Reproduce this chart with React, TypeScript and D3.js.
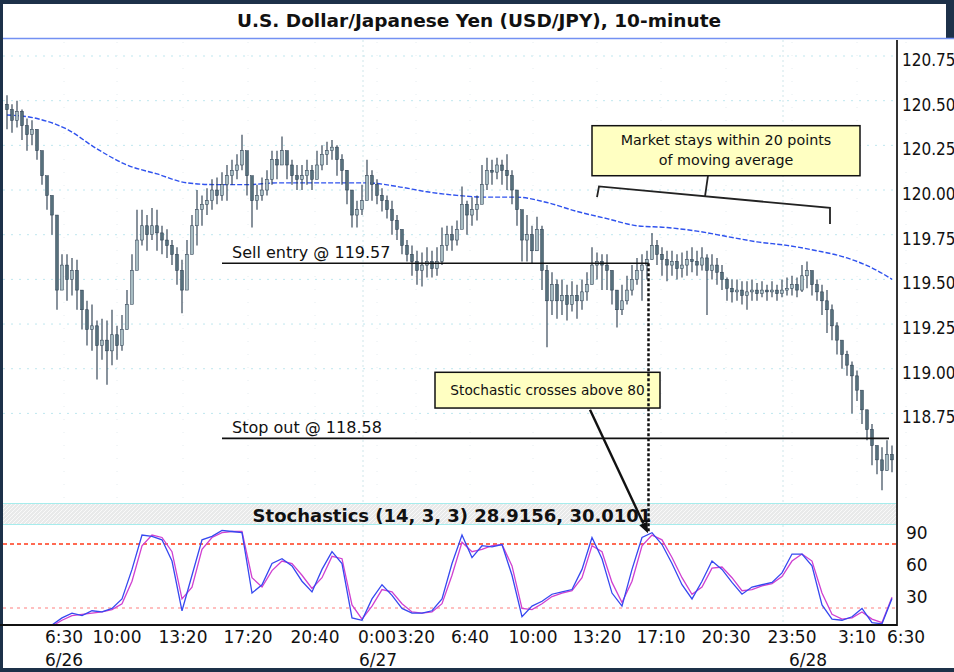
import React from "react";
import * as d3 from "d3";

// ---------- data ----------
const firstOpen = 120.48;
const closes = [
  120.45, 120.39, 120.44, 120.36, 120.31, 120.34, 120.22, 120.08, 119.97, 119.86,
  119.44, 119.58, 119.50, 119.55, 119.44, 119.33, 119.22, 119.24, 119.13, 119.16,
  119.10, 119.19, 119.13, 119.22, 119.36, 119.55, 119.72, 119.80, 119.75, 119.80,
  119.76, 119.72, 119.69, 119.64, 119.55, 119.44, 119.64, 119.80, 119.89, 119.92,
  119.94, 120.00, 119.97, 120.03, 120.08, 120.11, 120.14, 120.22, 120.08, 119.94,
  119.97, 120.00, 120.06, 120.17, 120.14, 120.22, 120.14, 120.08, 120.06, 120.08,
  120.11, 120.06, 120.14, 120.20, 120.22, 120.24, 120.17, 120.11, 120.00, 119.86,
  119.89, 119.94, 120.08, 120.03, 119.97, 119.94, 119.89, 119.83, 119.78, 119.69,
  119.64, 119.60, 119.55, 119.58, 119.60, 119.56, 119.60, 119.69, 119.75, 119.72,
  119.78, 119.92, 119.86, 119.89, 119.92, 120.03, 120.11, 120.10, 120.14, 120.11,
  120.08, 120.00, 119.89, 119.72, 119.75, 119.66, 119.78, 119.55, 119.38, 119.47,
  119.38, 119.41, 119.36, 119.41, 119.38, 119.43, 119.47, 119.58, 119.60, 119.58,
  119.55, 119.44, 119.33, 119.38, 119.44, 119.50, 119.55, 119.58, 119.61, 119.69,
  119.64, 119.61, 119.58, 119.60, 119.56, 119.58, 119.61, 119.60, 119.58, 119.62,
  119.55, 119.58, 119.54, 119.50, 119.45, 119.43, 119.44, 119.41, 119.43, 119.44,
  119.42, 119.44, 119.43, 119.44, 119.42, 119.44, 119.45, 119.47, 119.44, 119.52,
  119.55, 119.47, 119.43, 119.38, 119.33, 119.24, 119.16, 119.08, 119.02, 118.96,
  118.88, 118.77, 118.66, 118.57, 118.49, 118.43, 118.52, 118.49,
];
const highs = [
  120.53, 120.48, 120.50, 120.45, 120.40, 120.39, 120.31, 120.22, 120.06, 119.94,
  119.80, 119.64, 119.64, 119.62, 119.61, 119.44, 119.38, 119.36, 119.27, 119.28,
  119.27, 119.33, 119.24, 119.30, 119.44, 119.64, 119.89, 119.89, 119.86, 119.90,
  119.89, 119.80, 119.78, 119.72, 119.68, 119.61, 119.72, 119.86, 120.00, 119.97,
  120.01, 120.06, 120.07, 120.10, 120.14, 120.17, 120.20, 120.31, 120.20, 120.06,
  120.03, 120.07, 120.11, 120.22, 120.22, 120.30, 120.22, 120.17, 120.14, 120.14,
  120.17, 120.14, 120.22, 120.25, 120.27, 120.28, 120.25, 120.20, 120.11, 119.97,
  119.94, 120.03, 120.17, 120.11, 120.06, 120.01, 119.97, 119.94, 119.86, 119.76,
  119.72, 119.69, 119.66, 119.65, 119.68, 119.66, 119.68, 119.79, 119.80, 119.80,
  119.83, 120.02, 119.94, 119.96, 119.97, 120.14, 120.18, 120.17, 120.18, 120.17,
  120.20, 120.11, 120.00, 119.87, 119.86, 119.80, 119.85, 119.80, 119.58, 119.54,
  119.50, 119.50, 119.47, 119.49, 119.47, 119.50, 119.54, 119.68, 119.65, 119.64,
  119.64, 119.55, 119.44, 119.47, 119.52, 119.58, 119.62, 119.64, 119.66, 119.76,
  119.72, 119.68, 119.66, 119.66, 119.64, 119.65, 119.66, 119.68, 119.66, 119.68,
  119.64, 119.64, 119.62, 119.58, 119.51, 119.50, 119.50, 119.49, 119.49, 119.50,
  119.48, 119.49, 119.47, 119.49, 119.47, 119.50, 119.51, 119.52, 119.51, 119.58,
  119.60, 119.54, 119.50, 119.47, 119.44, 119.36, 119.26, 119.13, 119.10, 119.04,
  118.99, 118.87, 118.77, 118.69, 118.57, 118.56, 118.60, 118.57,
];
const lows = [
  120.34, 120.32, 120.35, 120.28, 120.22, 120.25, 120.17, 120.03, 119.89, 119.75,
  119.33, 119.44, 119.38, 119.41, 119.33, 119.22, 119.13, 119.10, 118.94, 119.05,
  118.91, 119.02, 119.05, 119.10, 119.22, 119.44, 119.61, 119.69, 119.66, 119.72,
  119.66, 119.64, 119.62, 119.58, 119.47, 119.31, 119.52, 119.64, 119.69, 119.80,
  119.86, 119.89, 119.92, 119.94, 119.94, 120.03, 120.06, 120.11, 119.97, 119.79,
  119.89, 119.94, 119.97, 120.03, 120.06, 120.14, 120.06, 120.03, 120.00, 120.00,
  120.03, 120.00, 120.06, 120.11, 120.14, 120.17, 120.08, 120.03, 119.92, 119.79,
  119.79, 119.86, 119.97, 119.94, 119.92, 119.88, 119.84, 119.75, 119.72, 119.64,
  119.60, 119.52, 119.47, 119.46, 119.51, 119.51, 119.52, 119.58, 119.66, 119.66,
  119.69, 119.80, 119.75, 119.80, 119.83, 119.94, 120.00, 120.03, 120.06, 120.03,
  120.00, 119.92, 119.80, 119.60, 119.60, 119.59, 119.66, 119.44, 119.12, 119.30,
  119.28, 119.30, 119.27, 119.32, 119.28, 119.33, 119.38, 119.49, 119.50, 119.44,
  119.44, 119.36, 119.23, 119.30, 119.36, 119.41, 119.47, 119.38, 119.50, 119.61,
  119.58, 119.52, 119.49, 119.52, 119.50, 119.51, 119.52, 119.54, 119.52, 119.55,
  119.30, 119.50, 119.47, 119.44, 119.38, 119.37, 119.38, 119.36, 119.33, 119.38,
  119.38, 119.40, 119.38, 119.40, 119.38, 119.40, 119.41, 119.41, 119.40, 119.43,
  119.45, 119.41, 119.38, 119.30, 119.20, 119.16, 119.08, 119.00, 118.96, 118.75,
  118.82, 118.69, 118.60, 118.46, 118.41, 118.32, 118.43, 118.42,
];
// moving average, sampled every 6 bars plus the last bar
const maValues = [
  120.42, 120.40, 120.34, 120.23, 120.14, 120.09, 120.04, 120.03, 120.03, 120.04,
  120.04, 120.04, 120.04, 120.02, 119.99, 119.97, 119.96, 119.96, 119.93, 119.88,
  119.84, 119.80, 119.79, 119.77, 119.74, 119.71, 119.69, 119.66, 119.62, 119.55,
  119.50,
];
// stochastics %K and %D, sampled every 2 bars from bar 9
const stochK = [
  4.1, 10.7, 15.2, 12.9, 17.4, 16.3, 19.6, 28.5, 56.2, 88.4,
  87.2, 83.9, 64.0, 17.4, 50.7, 83.9, 87.2, 92.8, 91.7, 90.6,
  34.0, 41.8, 61.7, 66.2, 59.5, 45.1, 35.1, 56.2, 72.8, 61.7,
  10.7, 8.5, 28.5, 41.8, 31.8, 19.6, 15.2, 15.2, 17.4, 28.5,
  61.7, 88.4, 67.3, 78.4, 77.3, 79.5, 50.7, 11.8, 21.8, 26.3,
  32.9, 35.1, 37.3, 56.2, 86.1, 66.2, 34.0, 21.8, 56.2, 86.1,
  90.6, 79.5, 61.7, 41.8, 28.5, 45.1, 64.0, 56.2, 44.0, 32.9,
  39.6, 41.8, 44.0, 52.9, 70.6, 70.6, 59.5, 22.9, 9.6, 8.5,
  11.8, 19.6, 6.3, 5.2, 28.9,
];
const stochD = [
  3.0, 8.5, 12.9, 14.1, 15.2, 16.3, 18.5, 24.0, 45.1, 78.4,
  88.4, 86.1, 72.8, 28.5, 39.6, 75.0, 86.1, 90.6, 91.7, 91.7,
  48.4, 39.6, 55.1, 64.0, 61.7, 50.7, 38.4, 48.4, 68.4, 66.2,
  22.9, 9.6, 21.8, 37.3, 35.1, 24.0, 16.3, 15.2, 16.3, 24.0,
  50.7, 81.7, 72.8, 75.0, 78.4, 79.5, 59.5, 19.6, 18.5, 24.0,
  30.7, 34.0, 36.2, 48.4, 78.4, 72.8, 44.0, 25.1, 45.1, 78.4,
  88.4, 83.9, 67.3, 48.4, 32.9, 39.6, 57.3, 58.4, 48.4, 36.2,
  37.3, 40.7, 42.9, 49.5, 64.0, 70.6, 64.0, 34.0, 14.1, 9.6,
  10.7, 16.3, 9.6, 6.3, 30.0,
];
const priceTicks = [118.75, 119.0, 119.25, 119.5, 119.75, 120.0, 120.25, 120.5, 120.75];
const stochTicks = [90, 60, 30];
const stochLevels = [80, 20];
const timeLabels = ["6:30", "10:00", "13:20", "17:20", "20:40", "0:00", "3:20", "6:40", "10:00", "13:20", "17:10", "20:30", "23:50", "3:10", "6:30"];
const timeTickBars = [11.4, 22, 35.2, 48.2, 61.6, 74.0, 81.8, 92.6, 105.2, 118, 130.8, 143.8, 157, 170, 179.8];
const dateLabels = ["6/26", "6/27", "6/28"];
const dateTickBars = [11.4, 74.2, 160.2];
const dayLineBars = [71.2, 155.2];

const title = "U.S. Dollar/Japanese Yen (USD/JPY), 10-minute";
const stochTitle = "Stochastics (14, 3, 3) 28.9156, 30.0101";
const sellEntry = { label: "Sell entry @ 119.57", level: 119.59, from: 43, to: 128.3 };
const stopOut = { label: "Stop out @ 118.58", level: 118.61, from: 43, to: 176.4 };
const maNote = { lines: ["Market stays within 20 points", "of moving average"], x0: 117, x1: 170.6, top: 120.36, bottom: 120.08 };
const maBracket: [number, number][] = [[118.0, 119.96], [118.4, 120.02], [164.6, 119.9], [164.6, 119.81]];
const maConnector: [number, number][] = [[139.6, 119.965], [140.2, 120.08]];
const stochNote = { text: "Stochastic crosses above 80", x0: 85.6, x1: 130.6, top: 118.98, bottom: 118.78 };
const arrowFrom: [number, number] = [116.6, 118.77];
const arrowTo: [number, number] = [128.2, 90];

const FONT = "'DejaVu Sans', Verdana, sans-serif";
const FONT_COND = "'DejaVu Sans Condensed', 'DejaVu Sans', sans-serif";

export default function App() {
  const W = 954, H = 672;
  const n = closes.length;
  const axisX = 897;
  const x = d3.scaleLinear().domain([0, n - 1]).range([7, 892]);
  const yP = d3.scaleLinear().domain([118.75, 120.75]).range([413.4, 56]);
  const yS = d3.scaleLinear().domain([20, 80]).range([608, 544]);

  const maBars = d3.range(0, n - 3, 6).concat([n - 1]);
  const stochBars = d3.range(9, n, 2);
  const maPath = d3.line<number>().x((_, i) => x(maBars[i])).y((d) => yP(d)).curve(d3.curveMonotoneX)(maValues) || "";
  const kPath = d3.line<number>().x((_, i) => x(stochBars[i])).y((d) => yS(d))(stochK) || "";
  const dPath = d3.line<number>().x((_, i) => x(stochBars[i])).y((d) => yS(d))(stochD) || "";
  const bracketPath = d3.line<[number, number]>().x((d) => x(d[0])).y((d) => yP(d[1]))(maBracket) || "";
  const connPath = d3.line<[number, number]>().x((d) => x(d[0])).y((d) => yP(d[1]))(maConnector) || "";

  const ax0 = x(arrowFrom[0]), ay0 = yP(arrowFrom[1]);
  const ax1 = x(arrowTo[0]), ay1 = yS(arrowTo[1]);
  const len = Math.hypot(ax1 - ax0, ay1 - ay0);
  const ux = (ax1 - ax0) / len, uy = (ay1 - ay0) / len;
  const hl = 11, hw = 4.5;
  const bx = ax1 - ux * hl, by = ay1 - uy * hl;
  const head = `${ax1},${ay1} ${bx - uy * hw},${by + ux * hw} ${bx + uy * hw},${by - ux * hw}`;

  const textStyle = { fontFamily: FONT };
  const condStyle = { fontFamily: FONT_COND, fontStretch: "condensed" as const };

  return (
    <svg width={W} height={H} style={{ position: "absolute", left: 0, top: 0, display: "block" }}>
      <defs>
        <clipPath id="stochClip"><rect x={3} y={526} width={axisX - 3} height={98} /></clipPath>
        <clipPath id="priceClip"><rect x={3} y={40} width={axisX - 3} height={462} /></clipPath>
        <pattern id="hatch" width={4} height={4} patternUnits="userSpaceOnUse">
          <rect width={4} height={4} fill="#e9eaea" />
          <path d="M0,4 L4,0" stroke="#f9f9f9" strokeWidth={1} />
        </pattern>
      </defs>

      {/* frame */}
      <rect width={W} height={H} fill="#1d3149" />
      <rect x={3} y={4} width={943} height={36} fill="#ffffff" />
      <rect x={3} y={38} width={951} height={630} fill="#ffffff" />
      <text x={479} y={20} textAnchor="middle" dominantBaseline="central" fontSize={18.5} fontWeight="bold" fill="#111" style={textStyle}>{title}</text>
      <line x1={3} x2={954} y1={38.5} y2={38.5} stroke="#7391f2" strokeWidth={1.6} />

      {/* grid */}
      {priceTicks.map((p) => (
        <line key={"g" + p} x1={3} x2={axisX} y1={yP(p)} y2={yP(p)} stroke="#bfe7ef" strokeWidth={1} strokeDasharray="2,6" />
      ))}
      {timeTickBars.map((b, i) => (
        <line key={"v" + i} x1={x(b)} x2={x(b)} y1={42} y2={500} stroke="#e6edf0" strokeWidth={1} strokeDasharray="1,12" />
      ))}
      {dayLineBars.map((b) => (
        <line key={"d" + b} x1={x(b)} x2={x(b)} y1={40} y2={625} stroke="#cfe6ea" strokeWidth={1} strokeDasharray="2,3" />
      ))}

      {/* moving average */}
      <path d={maPath} fill="none" stroke="#2f52ee" strokeWidth={1.4} strokeDasharray="5,2" clipPath="url(#priceClip)" />

      {/* candles */}
      <g clipPath="url(#priceClip)">
        {closes.map((c, i) => {
          const o = i === 0 ? firstOpen : closes[i - 1];
          const up = c >= o;
          const cx = x(i);
          const yt = yP(Math.max(o, c));
          const yb = yP(Math.min(o, c));
          return (
            <g key={i}>
              <line x1={cx} x2={cx} y1={yP(highs[i])} y2={yP(lows[i])} stroke="#25374a" strokeWidth={1.1} />
              <rect x={cx - 1.4} y={yt} width={2.8} height={Math.max(1, yb - yt)} fill={up ? "#a7bcc2" : "#56707c"} stroke="#25374a" strokeWidth={0.5} />
            </g>
          );
        })}
      </g>

      {/* sell / stop lines */}
      {[sellEntry, stopOut].map((s) => (
        <g key={s.label}>
          <line x1={x(s.from)} x2={x(s.to)} y1={yP(s.level)} y2={yP(s.level)} stroke="#111" strokeWidth={1.6} />
          <text x={x(s.from) + 10} y={yP(s.level) - 5} fontSize={16} fill="#111" style={textStyle}>{s.label}</text>
        </g>
      ))}

      {/* MA note */}
      <rect x={x(maNote.x0)} y={yP(maNote.top)} width={x(maNote.x1) - x(maNote.x0)} height={yP(maNote.bottom) - yP(maNote.top)} fill="#ffffc2" stroke="#111" strokeWidth={1.5} />
      {maNote.lines.map((t, i) => (
        <text key={t} x={(x(maNote.x0) + x(maNote.x1)) / 2} y={yP(maNote.top) + 14 + i * 20} textAnchor="middle" dominantBaseline="central" fontSize={14.3} fill="#111" style={textStyle}>{t}</text>
      ))}
      <path d={bracketPath} fill="none" stroke="#222" strokeWidth={1.8} />
      <path d={connPath} fill="none" stroke="#222" strokeWidth={1.8} />

      {/* stochastic note */}
      <rect x={x(stochNote.x0)} y={yP(stochNote.top)} width={x(stochNote.x1) - x(stochNote.x0)} height={yP(stochNote.bottom) - yP(stochNote.top)} fill="#ffffc2" stroke="#111" strokeWidth={1.5} />
      <text x={(x(stochNote.x0) + x(stochNote.x1)) / 2} y={(yP(stochNote.top) + yP(stochNote.bottom)) / 2} textAnchor="middle" dominantBaseline="central" fontSize={13.7} fill="#111" style={textStyle}>{stochNote.text}</text>

      {/* stochastic header band */}
      <rect x={3} y={503} width={axisX - 3} height={22} fill="url(#hatch)" />
      <line x1={3} x2={axisX} y1={503.5} y2={503.5} stroke="#a6ecec" strokeWidth={1} />
      <line x1={3} x2={axisX} y1={524.5} y2={524.5} stroke="#a6ecec" strokeWidth={1} />
      <text x={452} y={515} textAnchor="middle" dominantBaseline="central" fontSize={18} fontWeight="bold" fill="#111" style={textStyle}>{stochTitle}</text>

      {/* stochastic panel */}
      {stochLevels.map((v, i) => (
        <line key={"l" + v} x1={3} x2={axisX} y1={yS(v)} y2={yS(v)} stroke={i === 0 ? "#ff3a1a" : "#ffaaaa"} strokeWidth={1.5} strokeDasharray={i === 0 ? "4,3" : "3,4"} />
      ))}
      <g clipPath="url(#stochClip)">
        <path d={dPath} fill="none" stroke="#d040d0" strokeWidth={1.3} />
        <path d={kPath} fill="none" stroke="#3548f0" strokeWidth={1.3} />
      </g>

      {/* vertical dotted marker */}
      <line x1={x(sellEntry.to)} x2={x(sellEntry.to)} y1={yP(sellEntry.level)} y2={yS(arrowTo[1])} stroke="#111" strokeWidth={2.5} strokeDasharray="3,2" />

      {/* arrow */}
      <line x1={ax0} y1={ay0} x2={bx} y2={by} stroke="#111" strokeWidth={2.4} />
      <polygon points={head} fill="#111" />

      {/* axes */}
      <line x1={axisX} x2={axisX} y1={40} y2={626} stroke="#333" strokeWidth={2} />
      <line x1={0} x2={axisX} y1={625} y2={625} stroke="#111" strokeWidth={2} />
      {priceTicks.map((p) => (
        <text key={"t" + p} x={axisX + 5} y={yP(p) + 4} dominantBaseline="central" fontSize={17} fill="#111" style={condStyle}>{p.toFixed(2)}</text>
      ))}
      {stochTicks.map((v) => (
        <text key={"s" + v} x={axisX + 9} y={yS(v)} dominantBaseline="central" fontSize={17} fill="#111" style={textStyle}>{v}</text>
      ))}
      {timeLabels.map((t, i) => (
        <text key={"x" + i} x={x(timeTickBars[i])} y={637} textAnchor="middle" dominantBaseline="central" fontSize={17} fill="#111" style={textStyle}>{t}</text>
      ))}
      {dateLabels.map((t, i) => (
        <text key={"dt" + i} x={x(dateTickBars[i])} y={660} textAnchor="middle" dominantBaseline="central" fontSize={17} fill="#111" style={textStyle}>{t}</text>
      ))}
    </svg>
  );
}
